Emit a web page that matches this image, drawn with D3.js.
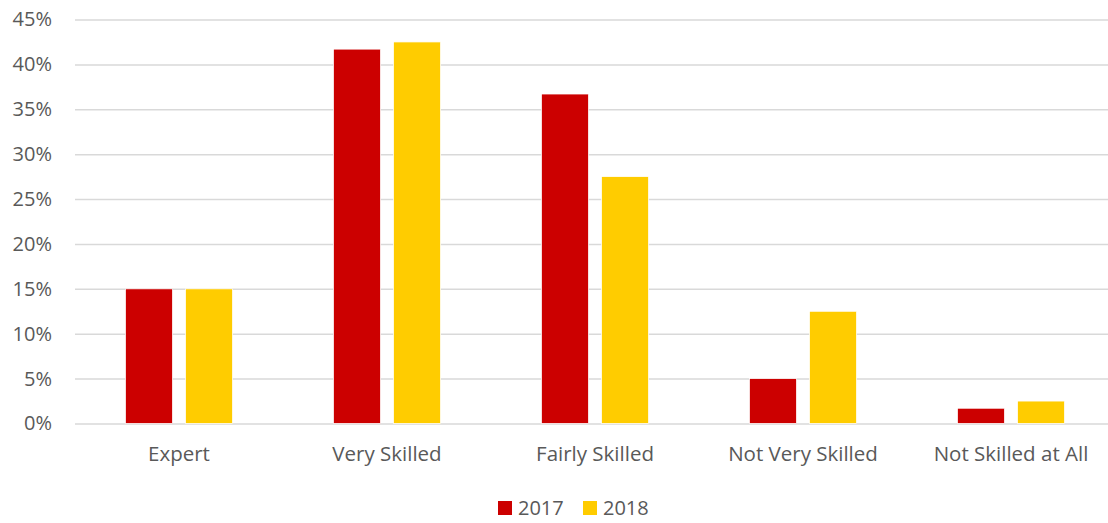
<!DOCTYPE html>
<html>
<head>
<meta charset="utf-8">
<script src="https://cdn.jsdelivr.net/npm/d3@7"></script>
<style>
  html, body { margin: 0; padding: 0; background: #fff; }
  svg text { font-family: "Open Sans", "Liberation Sans", sans-serif; fill: #595959; }
</style>
</head>
<body>
<svg id="chart" width="1108" height="523"></svg>
<script>
// Self-rated skill level, share of respondents by year
const categories = ["Expert", "Very Skilled", "Fairly Skilled", "Not Very Skilled", "Not Skilled at All"];
const years = ["2017", "2018"];
const values2017 = [15.0, 41.7, 36.7, 5.0, 1.7];
const values2018 = [15.0, 42.5, 27.5, 12.5, 2.5];
const yTicks = [0, 5, 10, 15, 20, 25, 30, 35, 40, 45];
const colors = ["#CC0000", "#FFCC00"];

const series = [values2017, values2018];
const rows = categories.map((c, i) => ({ category: c, values: series.map(s => s[i]) }));

const svg = d3.select("#chart");
const margin = { left: 75, right: -7, top: 19.5, bottom: 99.5 };
const W = 1108, H = 523;
const plotW = W - margin.left - margin.right;
const plotH = H - margin.top - margin.bottom;

const x0 = d3.scaleBand().domain(categories).range([0, plotW]).paddingInner(0).paddingOuter(0);
const x1 = d3.scaleBand().domain(years).range([0, x0.bandwidth()]).paddingInner(0.217).paddingOuter(0.84);
const y = d3.scaleLinear().domain([0, 45]).range([plotH, 0]);

const g = svg.append("g").attr("transform", `translate(${margin.left},${margin.top})`);

// horizontal gridlines with percent labels
const yAxis = d3.axisLeft(y).tickValues(yTicks).tickSize(-plotW).tickPadding(23)
  .tickFormat(d => d + "%");
const ya = g.append("g").call(yAxis);
ya.select(".domain").remove();
ya.selectAll(".tick line").attr("stroke", "#d9d9d9").attr("stroke-width", 1.5);
ya.selectAll(".tick text").style("font-size", "20px").attr("fill", "#595959");

// bars
const groups = g.selectAll(".cat").data(rows).enter().append("g")
  .attr("transform", d => `translate(${x0(d.category)},0)`);
groups.selectAll("rect").data(d => d.values.map((v, i) => ({ year: years[i], v, i })))
  .enter().append("rect")
  .attr("x", d => x1(d.year))
  .attr("width", x1.bandwidth())
  .attr("y", d => y(d.v))
  .attr("height", d => plotH - y(d.v))
  .attr("fill", d => colors[d.i])
  .attr("stroke", "#fff")
  .attr("stroke-width", 0.75);

// category axis (labels only)
const xAxis = d3.axisBottom(x0).tickSize(0).tickPadding(23);
const xa = g.append("g").attr("transform", `translate(0,${plotH})`).call(xAxis);
xa.select(".domain").remove();
xa.selectAll(".tick text").style("font-size", "20.5px").attr("fill", "#595959");

// legend
const legend = svg.append("g").attr("transform", "translate(498,501)");
const legendItems = legend.selectAll("g").data(years).enter().append("g")
  .attr("transform", (d, i) => `translate(${i * 85},0)`);
legendItems.append("rect").attr("width", 14).attr("height", 14)
  .attr("fill", (d, i) => colors[i]);
legendItems.append("text").attr("x", 20).attr("y", 7).attr("dy", "0.35em")
  .style("font-size", "20px").text(d => d);
</script>
</body>
</html>
